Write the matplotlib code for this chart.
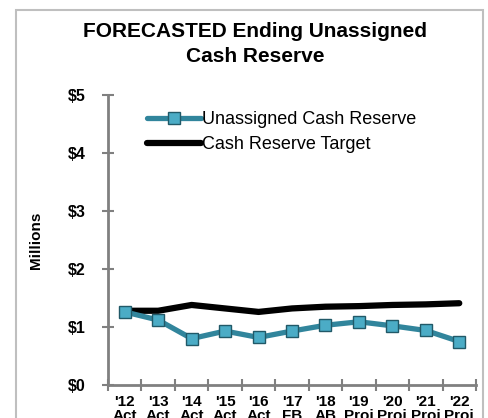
import numpy as np
import matplotlib.pyplot as plt
from matplotlib.patches import Rectangle

plt.rcParams['font.family'] = ['Liberation Sans', 'DejaVu Sans']

years = ["'12", "'13", "'14", "'15", "'16", "'17", "'18", "'19", "'20", "'21", "'22"]
kinds = ["Act", "Act", "Act", "Act", "Act", "FB", "AB", "Proj", "Proj", "Proj", "Proj"]
unassigned = [1.26, 1.12, 0.80, 0.93, 0.82, 0.93, 1.03, 1.09, 1.02, 0.94, 0.75]
target = [1.28, 1.28, 1.38, 1.32, 1.26, 1.32, 1.35, 1.36, 1.38, 1.39, 1.41]
yticks = [0, 1, 2, 3, 4, 5]

fig = plt.figure(figsize=(4.88, 4.18), dpi=100)
fig.patches.append(Rectangle((16 / 488, -0.1), 467 / 488, 1 - 10 / 418 + 0.1,
                             transform=fig.transFigure, fill=False,
                             edgecolor='#BFBFBF', linewidth=1.5))

ax = fig.add_axes([108 / 488, 1 - 385 / 418, 368 / 488, 290 / 418])
x = np.arange(len(years))

ax.plot(x, unassigned, color='#31859C', linewidth=3.8, marker='s', markersize=9,
        markerfacecolor='#4BACC6', markeredgecolor='#215968', markeredgewidth=1,
        label='Unassigned Cash Reserve', solid_capstyle='round', zorder=3)
ax.plot(x, target, color='black', linewidth=4.5, solid_capstyle='round',
        label='Cash Reserve Target', zorder=2)

ax.set_xlim(-0.5, len(years) - 0.5)
ax.set_ylim(0, 5)
ax.set_yticks(yticks)
ax.set_yticklabels(['$%d' % v for v in yticks], fontsize=11.5, fontweight='bold')
ax.set_xticks(np.arange(len(years) + 1) - 0.5)
ax.set_xticklabels([])
ax.set_xticks(x, minor=True)
ax.set_xticklabels([y + '\n' + k for y, k in zip(years, kinds)], minor=True,
                   fontsize=11, fontweight='bold', linespacing=1.05)
ax.tick_params(axis='x', which='minor', length=0, pad=7)
ax.tick_params(axis='both', which='major', direction='inout', length=8,
               width=1.5, color='#808080', pad=8)
ax.tick_params(axis='y', pad=12)

for side in ['top', 'right']:
    ax.spines[side].set_visible(False)
for side in ['left', 'bottom']:
    ax.spines[side].set_color('#808080')
    ax.spines[side].set_linewidth(2)

ax.set_ylabel('Millions', fontsize=11, fontweight='bold', labelpad=18)

leg = ax.legend(loc='upper left', bbox_to_anchor=(0.085, 0.97), frameon=False,
                fontsize=13, handlelength=3.0, handletextpad=0.1,
                labelspacing=0.45, borderaxespad=0)

fig.text(0.523, 1 - 44 / 418, 'FORECASTED Ending Unassigned\nCash Reserve',
         ha='center', va='center', fontsize=15, fontweight='bold', linespacing=1.4)

fig.savefig('out.png', dpi=100)
